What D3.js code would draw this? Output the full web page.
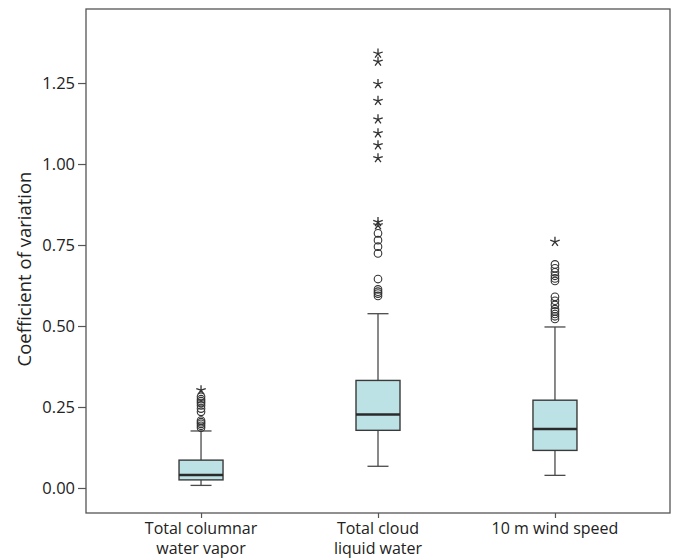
<!DOCTYPE html>
<html>
<head>
<meta charset="utf-8">
<script src="https://cdn.jsdelivr.net/npm/d3@7"></script>
<style>
  html, body { margin: 0; padding: 0; background: #fff; }
  svg { display: block; font-family: "Open Sans", "Noto Sans", sans-serif; }
</style>
</head>
<body>
<svg id="chart" width="680" height="560"></svg>
<script>
// Variables compared
const categories = ["Total columnar water vapor", "Total cloud liquid water", "10 m wind speed"];
const categoryLines = [["Total columnar", "water vapor"], ["Total cloud", "liquid water"], ["10 m wind speed"]];

// Box summary per variable
const whiskerLow  = [0.008, 0.067, 0.039];
const q1          = [0.025, 0.178, 0.116];
const median      = [0.040, 0.227, 0.182];
const q3          = [0.086, 0.332, 0.271];
const whiskerHigh = [0.176, 0.538, 0.497];

// Outliers (circles) and extreme values (asterisks)
const outliers = [
  [0.186, 0.192, 0.198, 0.203, 0.208, 0.235, 0.245, 0.255, 0.262, 0.268, 0.274, 0.282],
  [0.593, 0.600, 0.606, 0.613, 0.645, 0.724, 0.745, 0.765, 0.786],
  [0.522, 0.530, 0.537, 0.545, 0.552, 0.565, 0.578, 0.590, 0.639, 0.647, 0.655, 0.666, 0.678, 0.690]
];
const extremes = [
  [0.302],
  [0.811, 0.821, 1.018, 1.058, 1.095, 1.138, 1.195, 1.247, 1.316, 1.341],
  [0.760]
];

const yTicks = [0, 0.25, 0.5, 0.75, 1.0, 1.25];
const yTitle = "Coefficient of variation";

const svg = d3.select("#chart");
const frame = { left: 86, right: 670, top: 9, bottom: 513 };

const y = d3.scaleLinear().domain([-0.0772, 1.4785]).range([frame.bottom, frame.top]);
const x = d3.scalePoint().domain(categories).range([frame.left, frame.right]).padding(0.65);

const stroke = "#4a4a4a";
const boxFill = "#bde2e5";
const boxW = 44, capW = 21;

// Frame
svg.append("rect")
  .attr("x", frame.left).attr("y", frame.top)
  .attr("width", frame.right - frame.left).attr("height", frame.bottom - frame.top)
  .attr("fill", "none").attr("stroke", "#555").attr("stroke-width", 1.3);

// Y axis
const yAxis = svg.append("g")
  .attr("transform", `translate(${frame.left},0)`)
  .call(d3.axisLeft(y).tickValues(yTicks).tickFormat(d3.format(".2f")).tickSize(8).tickPadding(3));
yAxis.select(".domain").remove();
yAxis.selectAll(".tick line").attr("stroke", "#555").attr("stroke-width", 1.2);
yAxis.selectAll(".tick text").attr("fill", "#222").style("font-size", "16.5px")
  .style("font-family", "'Open Sans', sans-serif");

// X axis
const xAxis = svg.append("g")
  .attr("transform", `translate(0,${frame.bottom})`)
  .call(d3.axisBottom(x).tickSize(5).tickFormat(""));
xAxis.select(".domain").remove();
xAxis.selectAll(".tick line").attr("stroke", "#555").attr("stroke-width", 1.2);

// Category labels, one text element per line
categories.forEach((c, i) => {
  categoryLines[i].forEach((line, j) => {
    svg.append("text")
      .attr("x", x(c)).attr("y", 534 + j * 20)
      .attr("text-anchor", "middle")
      .attr("fill", "#222")
      .style("font-size", "16px")
      .text(line);
  });
});

// Y title
svg.append("text")
  .attr("transform", `translate(31,269) rotate(-90)`)
  .attr("text-anchor", "middle")
  .attr("fill", "#222")
  .style("font-size", "18.5px")
  .text(yTitle);

// Boxes
const g = svg.append("g");
categories.forEach((c, i) => {
  const cx = x(c);
  // whisker stems
  g.append("line").attr("x1", cx).attr("x2", cx)
    .attr("y1", y(q3[i])).attr("y2", y(whiskerHigh[i]))
    .attr("stroke", stroke).attr("stroke-width", 1.3);
  g.append("line").attr("x1", cx).attr("x2", cx)
    .attr("y1", y(q1[i])).attr("y2", y(whiskerLow[i]))
    .attr("stroke", stroke).attr("stroke-width", 1.3);
  // caps
  [whiskerHigh[i], whiskerLow[i]].forEach(v => {
    g.append("line").attr("x1", cx - capW / 2).attr("x2", cx + capW / 2)
      .attr("y1", y(v)).attr("y2", y(v))
      .attr("stroke", stroke).attr("stroke-width", 1.3);
  });
  // box
  g.append("rect")
    .attr("x", cx - boxW / 2).attr("y", y(q3[i]))
    .attr("width", boxW).attr("height", y(q1[i]) - y(q3[i]))
    .attr("fill", boxFill).attr("stroke", "#3a3a3a").attr("stroke-width", 1.4);
  // median
  g.append("line").attr("x1", cx - boxW / 2).attr("x2", cx + boxW / 2)
    .attr("y1", y(median[i])).attr("y2", y(median[i]))
    .attr("stroke", "#2a2a2a").attr("stroke-width", 2.6);

  // outlier circles
  g.selectAll(null).data(outliers[i]).enter().append("circle")
    .attr("cx", cx).attr("cy", d => y(d)).attr("r", 3.8)
    .attr("fill", "none").attr("stroke", "#333").attr("stroke-width", 1.1);
});

// Five-armed asterisk symbol for extreme values
const asterisk = {
  draw(ctx, size) {
    const r = Math.sqrt(size) / 2;
    for (let k = 0; k < 5; k++) {
      const a = -Math.PI / 2 + k * 2 * Math.PI / 5;
      ctx.moveTo(0, 0);
      ctx.lineTo(r * Math.cos(a), r * Math.sin(a));
    }
  }
};
const starPath = d3.symbol().type(asterisk).size(100)();
categories.forEach((c, i) => {
  g.selectAll(null).data(extremes[i]).enter().append("path")
    .attr("d", starPath)
    .attr("transform", d => `translate(${x(c)},${y(d)})`)
    .attr("fill", "none").attr("stroke", "#333").attr("stroke-width", 1.3);
});
</script>
</body>
</html>
